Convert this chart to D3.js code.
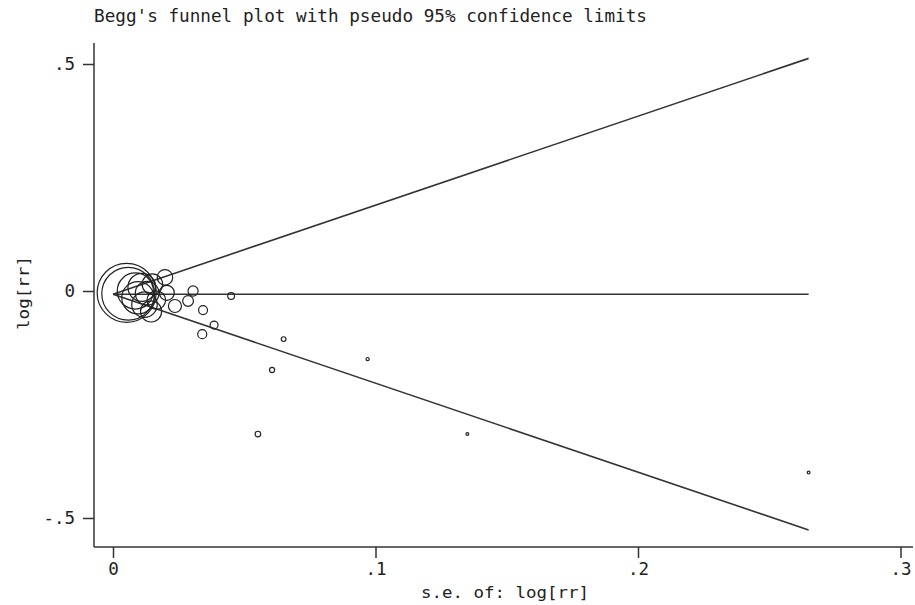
<!DOCTYPE html>
<html><head><meta charset="utf-8">
<script src="https://cdn.jsdelivr.net/npm/d3@7"></script>
<style>body{margin:0;background:#fff}svg{display:block}text{font-family:"DejaVu Sans Mono","Liberation Mono",monospace;fill:#222}</style>
</head><body>
<script>
const titleText = "Begg's funnel plot with pseudo 95% confidence limits";
const xLabel = "s.e. of: log[rr]";
const yLabel = "log[rr]";
const xTicks = [0, 0.1, 0.2, 0.3];
const xTickLabels = ["0", ".1", ".2", ".3"];
const yTicks = [-0.5, 0, 0.5];
const yTickLabels = ["-.5", "0", ".5"];
// study standard errors and log relative risks
const se = [0.0052, 0.0058, 0.0085, 0.0095, 0.011, 0.012, 0.013, 0.0145, 0.015, 0.0165, 0.0205, 0.0198, 0.0236, 0.0286, 0.0305, 0.0343, 0.034, 0.0385, 0.045, 0.0552, 0.0606, 0.065, 0.097, 0.135, 0.265];
const logrr = [-0.004, -0.006, 0.000, -0.015, 0.008, -0.03, -0.005, -0.045, 0.015, -0.02, -0.004, 0.03, -0.033, -0.022, 0.0, -0.042, -0.095, -0.075, -0.011, -0.315, -0.174, -0.106, -0.15, -0.315, -0.40];
const pooled = -0.007;

const W = 915, H = 605;
const svg = d3.select("body").append("svg").attr("width", W).attr("height", H);
const x = d3.scaleLinear().domain([0, 0.3]).range([113, 900.5]);
const y = d3.scaleLinear().domain([-0.5, 0.5]).range([518, 64]);
const r = d3.scaleSqrt().domain([0, 1 / (0.0052 * 0.0052)]).range([0, 29.5]);

svg.append("text").attr("x", 94).attr("y", 22).attr("font-size", 17)
  .attr("textLength", 553).attr("lengthAdjust", "spacingAndGlyphs").text(titleText);

// axes lines
svg.append("line").attr("x1", 94).attr("x2", 913).attr("y1", 547).attr("y2", 547).attr("stroke", "#333").attr("stroke-width", 1.5);
svg.append("line").attr("x1", 94).attr("x2", 94).attr("y1", 43).attr("y2", 547).attr("stroke", "#333").attr("stroke-width", 1.5);

const yAxis = d3.axisLeft(y).tickValues(yTicks).tickSize(11).tickPadding(8)
  .tickFormat((d, i) => yTickLabels[i]);
const gy = svg.append("g").attr("transform", "translate(94,0)").call(yAxis);
gy.select(".domain").remove();
gy.selectAll("line").attr("stroke", "#333").attr("stroke-width", 1.5);
gy.selectAll("text").attr("font-size", 17.5).attr("font-family", '"DejaVu Sans Mono",monospace').attr("fill", "#222");

const xAxis = d3.axisBottom(x).tickValues(xTicks).tickSize(11).tickPadding(5)
  .tickFormat((d, i) => xTickLabels[i]);
const gx = svg.append("g").attr("transform", "translate(0,547)").call(xAxis);
gx.select(".domain").remove();
gx.selectAll("line").attr("stroke", "#333").attr("stroke-width", 1.5);
gx.selectAll("text").attr("font-size", 17.5).attr("font-family", '"DejaVu Sans Mono",monospace').attr("fill", "#222");

svg.append("text").attr("x", 505).attr("y", 598).attr("text-anchor", "middle").attr("font-size", 16.5)
  .attr("textLength", 168).attr("lengthAdjust", "spacingAndGlyphs").text(xLabel);
svg.append("text").attr("transform", "translate(29,293) rotate(-90)").attr("text-anchor", "middle").attr("font-size", 16.5)
  .attr("textLength", 74).attr("lengthAdjust", "spacingAndGlyphs").text(yLabel);

// funnel lines
const seMax = d3.max(se);
const lines = [
  [[0, pooled], [seMax, pooled]],
  [[0, pooled], [seMax, pooled + 1.96 * seMax]],
  [[0, pooled], [seMax, pooled - 1.96 * seMax]]
];
const lg = d3.line().x(d => x(d[0])).y(d => y(d[1]));
svg.selectAll("path.fl").data(lines).enter().append("path").attr("class", "fl")
  .attr("d", lg).attr("fill", "none").attr("stroke", "#333").attr("stroke-width", 1.6);

// study markers
svg.selectAll("circle").data(se).enter().append("circle")
  .attr("cx", d => x(d)).attr("cy", (d, i) => y(logrr[i]))
  .attr("r", d => Math.max(1.4, r(1 / (d * d))))
  .attr("fill", "none").attr("stroke", "#222").attr("stroke-width", 1.2);
</script>
</body></html>
